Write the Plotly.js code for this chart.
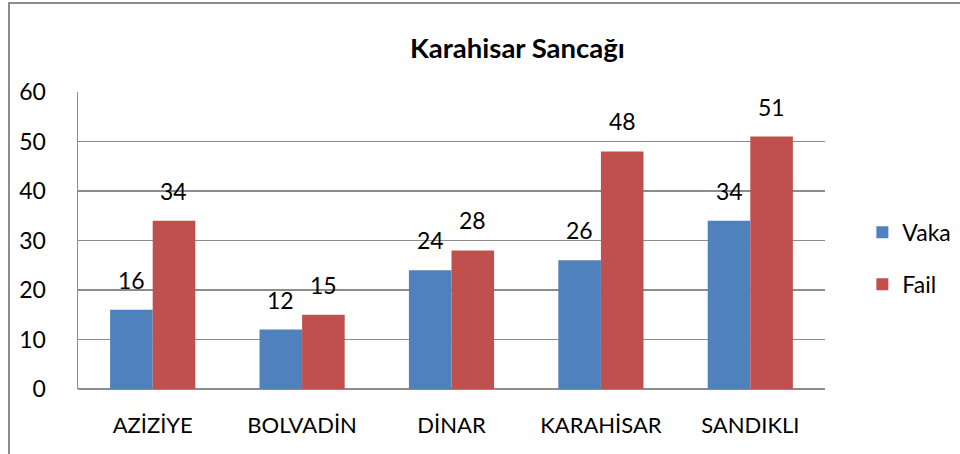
<!DOCTYPE html>
<html><head><meta charset="utf-8">
<script src="https://cdn.plot.ly/plotly-3.0.1.min.js"></script>
<style>
html,body{margin:0;padding:0;background:#fff;}
#frame{position:absolute;left:8px;top:2px;width:960px;height:460px;border-left:2px solid #8c8c8c;border-top:2px solid #8c8c8c;}
#chart{position:absolute;left:0;top:0;width:960px;height:454px;}
</style></head>
<body>
<div id="frame"></div>
<div id="chart"></div>
<script>
const categories = ["AZİZİYE","BOLVADİN","DİNAR","KARAHİSAR","SANDIKLI"];
const vaka = [16,12,24,26,34];
const fail = [34,15,28,48,51];
const yTicks = [0,10,20,30,40,50,60];

const font = "Lato, 'Open Sans', sans-serif";
const traces = [
  {type:'bar', name:'Vaka', x:categories, y:vaka, marker:{color:'#4F81BD'}, legendgroup:'a', hoverinfo:'none'},
  {type:'bar', name:'Fail', x:categories, y:fail, marker:{color:'#C0504D'}, legendgroup:'b', hoverinfo:'none'}
];
const plotW = 960-78-135;
const catW = plotW/categories.length;
const barW = catW*(1-0.43)/2;
const annotations = [];
[[vaka,-1],[fail,1]].forEach(([vals,side])=>{
  vals.forEach((v,i)=>{
    annotations.push({xref:'x', yref:'y', x:categories[i], y:v, text:String(v), showarrow:false,
      xanchor:'center', yanchor:'bottom', xshift:side*barW/2, yshift:14,
      font:{size:23, color:'#000', family:font}});
  });
});
const layout = {
  width:960, height:454,
  margin:{l:78, r:135, t:92, b:65, autoexpand:false},
  paper_bgcolor:'rgba(0,0,0,0)', plot_bgcolor:'rgba(0,0,0,0)',
  font:{family:font, size:22, color:'#000'},
  title:{text:'<b>Karahisar Sancağı</b>', font:{size:27.5, family:font, color:'#000'},
         xref:'container', x:0.539, xanchor:'center', yref:'container', y:0.894, yanchor:'middle'},
  barmode:'group', bargap:0.43, bargroupgap:0,
  xaxis:{type:'category', showgrid:false, zeroline:false, showline:false, ticks:'',
         tickfont:{size:22}, ticklabelstandoff:21},
  yaxis:{range:[0,60], tickvals:yTicks, showgrid:true, gridcolor:'#8c8c8c', gridwidth:1.5,
         showline:true, linecolor:'#8c8c8c', linewidth:1.5, zeroline:true, zerolinecolor:'#8c8c8c', zerolinewidth:1.5,
         ticks:'', tickfont:{size:23}, ticklabelstandoff:26},
  legend:{x:1.05, xanchor:'left', y:0.44, yanchor:'middle', font:{size:23},
          tracegroupgap:19, traceorder:'grouped', itemwidth:30, bgcolor:'rgba(0,0,0,0)'},
  annotations:annotations,
  showlegend:true
};
Plotly.newPlot('chart', traces, layout, {staticPlot:true, displayModeBar:false});
</script>
</body></html>
